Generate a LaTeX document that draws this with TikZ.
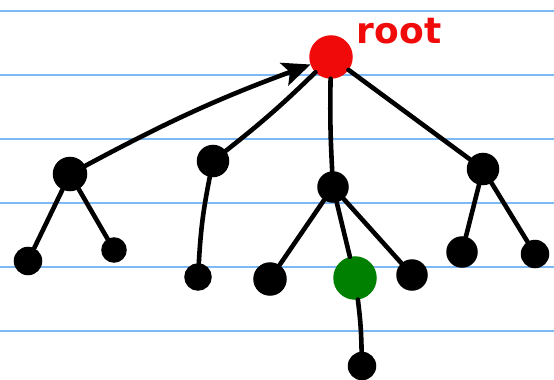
\documentclass[tikz,border=0pt]{standalone}
\usepackage{fontspec}
\newfontfamily\labelfont{DejaVu Sans}
\usetikzlibrary{arrows.meta}
\definecolor{ruleblue}{RGB}{125,185,245}
\definecolor{rootred}{RGB}{240,10,10}
\definecolor{leafgreen}{RGB}{0,128,0}
\tikzset{
  ruling/.style={ruleblue, line width=2.4pt},
  vert/.style={circle, fill=black, draw=black, line width=1.5pt, inner sep=0pt},
  link/.style={line width=4.6pt, line cap=round, black},
}
\begin{document}
\begin{tikzpicture}[x=1pt,y=-1pt]
  % page and ruled lines
  \fill[white] (0,0) rectangle (554,380);
  \useasboundingbox (0,0) rectangle (554,380);
  \foreach \yy in {11,75,139,203,267,331}
    \draw[ruling] (0,\yy) -- (554,\yy);

  % vertices
  \node[vert, fill=rootred, draw=rootred, minimum size=42pt] (root) at (331,57) {};
  \node[vert, minimum size=33pt] (a)  at (70,174) {};
  \node[vert, minimum size=27pt] (a1) at (28,261) {};
  \node[vert, minimum size=24pt] (a2) at (114,250) {};
  \node[vert, minimum size=31pt] (b)  at (213,161) {};
  \node[vert, minimum size=26pt] (b1) at (198,277) {};
  \node[vert, minimum size=30pt] (c)  at (333,187) {};
  \node[vert, minimum size=32pt] (c1) at (270,279) {};
  \node[vert, fill=leafgreen, draw=leafgreen, minimum size=42pt] (c2) at (355,278) {};
  \node[vert, minimum size=30pt] (c3) at (412,275) {};
  \node[vert, minimum size=27pt] (c21) at (362,366) {};
  \node[vert, minimum size=31pt] (d)  at (483,169) {};
  \node[vert, minimum size=30pt] (d1) at (462,252) {};
  \node[vert, minimum size=27pt] (d2) at (535,254) {};

  % label
  \node[rootred, font=\labelfont\bfseries\fontsize{36}{36}\selectfont, inner sep=0pt] (lbl) at (399,31) {root};

  % edges
  \draw[link, -{Stealth[length=28pt,width=24pt,inset=6pt]}] (a) to[bend left=4] (root);
  \draw[link] (root) to[bend left=3] (b);
  \draw[link] (root) to[bend right=2] (c);
  \draw[link] (root) -- (d);
  \draw[link] (a) -- (a1);
  \draw[link] (a) -- (a2);
  \draw[link] (b) to[bend right=4] (b1);
  \draw[link] (c) -- (c1);
  \draw[link] (c) -- (c2);
  \draw[link] (c) -- (c3);
  \draw[link] (c2) to[bend left=3] (c21);
  \draw[link] (d) -- (d1);
  \draw[link] (d) -- (d2);
\end{tikzpicture}
\end{document}
